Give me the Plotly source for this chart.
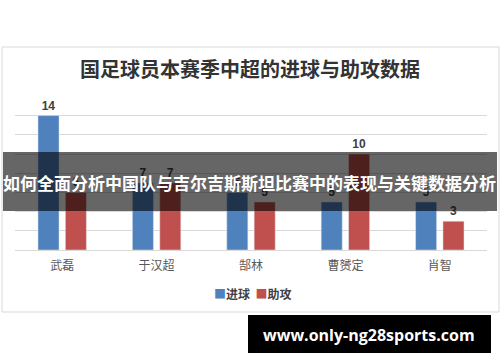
import plotly.graph_objects as go

W, H = 500, 362

players = ["武磊", "于汉超", "郜林", "曹赟定", "肖智"]
goals = [14, 7, 6, 5, 5]
assists = [6, 7, 5, 10, 3]
series_names = ["进球", "助攻"]
title_text = "国足球员本赛季中超的进球与助攻数据"
banner_text = "如何全面分析中国队与吉尔吉斯斯坦比赛中的表现与关键数据分析"
site_text = "www.only-ng28sports.com"

BLUE = "#4f81bd"
RED = "#c0504d"
CJK = "Noto Sans CJK SC"

def px(x):
    return x / W

def py(y):
    return 1 - y / H

fig = go.Figure()
for name, vals, col in [(series_names[0], goals, BLUE), (series_names[1], assists, RED)]:
    fig.add_trace(go.Bar(
        x=players, y=vals, name=name, marker_color=col,
        text=vals, textposition="outside", cliponaxis=False,
        textfont=dict(family="Liberation Sans", size=12, color="#404040", weight="bold"),
    ))

legend_html = "&nbsp;&nbsp;".join(
    f"<span style='color:{c}'>■</span>{n}" for n, c in zip(series_names, [BLUE, RED])
)

fig.update_layout(
    width=W, height=H,
    margin=dict(l=0, r=0, t=0, b=0),
    paper_bgcolor="white", plot_bgcolor="white",
    barmode="group", bargap=0.42, bargroupgap=0.23,
    title=dict(text=title_text, x=0.5, xanchor="center", y=py(70), yanchor="middle",
               font=dict(family=CJK, size=20, color="#333333", weight="bold")),
    xaxis=dict(domain=[px(15), px(487)], showgrid=False, showline=True, linecolor="#d9d9d9",
               ticks="outside", ticklen=5, tickcolor="rgba(0,0,0,0)",
               tickfont=dict(family=CJK, size=12, color="#595959")),
    yaxis=dict(domain=[py(250), py(96.4)], range=[0, 16], dtick=2, showgrid=True,
               gridcolor="#d9d9d9", gridwidth=1, showticklabels=False, zeroline=False),
    showlegend=False,
    shapes=[
        dict(type="rect", xref="paper", yref="paper", x0=px(2), x1=px(499), y0=py(312), y1=py(47),
             line=dict(color="#d9d9d9", width=1), fillcolor="rgba(0,0,0,0)", layer="below"),
        dict(type="rect", xref="paper", yref="paper", x0=px(3), x1=px(497), y0=py(211), y1=py(152),
             line=dict(width=0), fillcolor="rgba(0,0,0,0.6)", layer="above"),
        dict(type="rect", xref="paper", yref="paper", x0=px(248), x1=px(491), y0=py(353), y1=py(315),
             line=dict(width=0), fillcolor="black", layer="above"),
    ],
    annotations=[
        dict(text=legend_html, xref="paper", yref="paper", x=px(253), y=py(293), xanchor="center",
             yanchor="middle", showarrow=False,
             font=dict(family=CJK, size=12, color="#404040", weight="bold")),
        dict(text=banner_text, xref="paper", yref="paper", x=px(249), y=py(182), xanchor="center",
             yanchor="middle", showarrow=False,
             font=dict(family=CJK, size=17, color="white", weight="bold")),
        dict(text=site_text, xref="paper", yref="paper", x=px(369), y=py(335), xanchor="center",
             yanchor="middle", showarrow=False,
             font=dict(family="Open Sans", size=16, color="white", weight="bold")),
    ],
)

fig.write_html("out.html")
